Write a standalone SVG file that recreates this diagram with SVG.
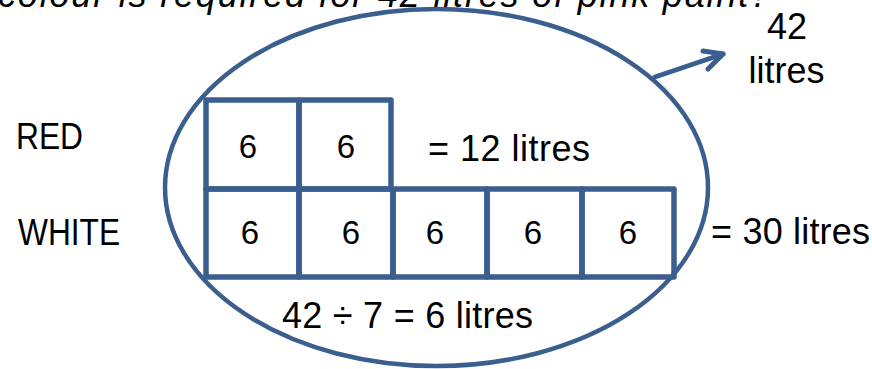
<svg xmlns="http://www.w3.org/2000/svg" width="872" height="369" viewBox="0 0 872 369">
<style>
.t{font-family:"Liberation Sans",Arial,sans-serif;font-size:36px;fill:#000}
.d{font-family:"Liberation Sans",Arial,sans-serif;font-size:33px;fill:#000;text-anchor:middle}
.b{fill:none;stroke:#3A5F8E;stroke-width:5.5;stroke-linejoin:round}
.e{fill:none;stroke:#3A5F8E;stroke-width:4.5}
.a{fill:none;stroke:#3A5F8E;stroke-width:5;stroke-linecap:round;stroke-linejoin:round}
</style>
<rect width="872" height="369" fill="#fff"/>
<g id="question">
<text class="t" x="-2" y="7" font-style="italic" font-size="37" textLength="772">colour is required for 42 litres of pink paint?</text>
</g>
<g id="total-ellipse">
<ellipse class="e" cx="436.5" cy="187.5" rx="271.5" ry="178.5"/>
</g>
<g id="red-row">
<rect class="b" x="206" y="100" width="93" height="89"/>
<rect class="b" x="299" y="100" width="92" height="89"/>
<text class="d" x="248" y="158">6</text>
<text class="d" x="346" y="158">6</text>
</g>
<g id="white-row">
<rect class="b" x="206" y="189" width="93" height="88"/>
<rect class="b" x="299" y="189" width="94" height="88"/>
<rect class="b" x="393" y="189" width="94" height="88"/>
<rect class="b" x="487" y="189" width="95" height="88"/>
<rect class="b" x="582" y="189" width="92" height="88"/>
<text class="d" x="250" y="244">6</text>
<text class="d" x="351" y="244">6</text>
<text class="d" x="435" y="244">6</text>
<text class="d" x="533" y="244">6</text>
<text class="d" x="628" y="244">6</text>
</g>
<g id="labels">
<text class="t" x="16" y="149" textLength="67" lengthAdjust="spacingAndGlyphs">RED</text>
<text class="t" x="18" y="245" textLength="102" lengthAdjust="spacingAndGlyphs">WHITE</text>
<text class="t" x="428" y="161" textLength="162">= 12 litres</text>
<text class="t" x="711" y="244" textLength="159">= 30 litres</text>
<text class="t" x="282" y="328" textLength="251">42 ÷ 7 = 6 litres</text>
<text class="t" x="787" y="39" text-anchor="middle">42</text>
<text class="t" x="786.5" y="83" text-anchor="middle">litres</text>
</g>
<g id="connectors">
<line class="a" x1="655" y1="77" x2="723" y2="54"/>
<polyline class="a" points="703,51 723,54 708,69"/>
</g>
</svg>
